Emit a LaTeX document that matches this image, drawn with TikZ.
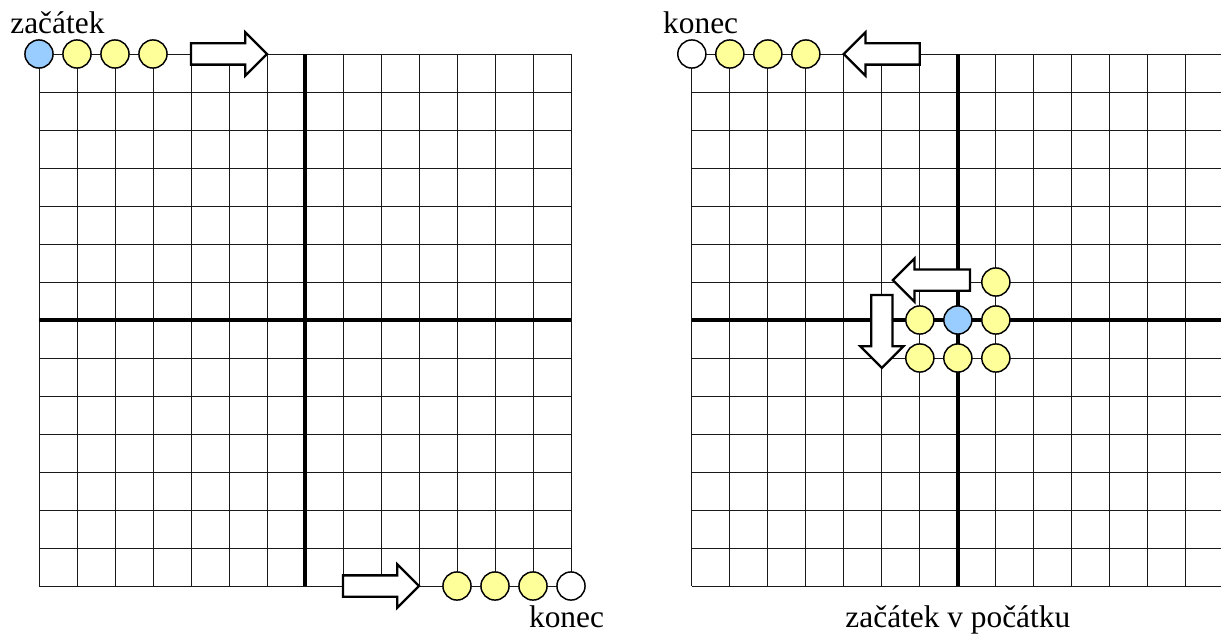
\documentclass[tikz,border=0pt]{standalone}
\usepackage{fontspec}
\setmainfont{Liberation Serif}
\definecolor{startblue}{RGB}{153, 204, 255}
\definecolor{beadyellow}{RGB}{255, 255, 153}
\usetikzlibrary{shapes.arrows}
\tikzset{
	gridline/.style={draw=black!90, line width=0.65pt},
	axisline/.style={draw=black, line width=2.8pt},
	bead/.style={circle, draw=black, line width=1.1pt, fill=beadyellow, minimum size=0.74cm, inner sep=0pt, outer sep=0pt},
	startbead/.style={bead, fill=startblue},
	endbead/.style={bead, fill=white},
	blockarrow/.style={single arrow, draw=black, fill=white, line width=1.7pt, inner xsep=0pt, inner ysep=0.25cm, outer sep=0pt, single arrow head extend=0.29cm, minimum height=2cm, anchor=tail},
	downarrow/.style={blockarrow, shape border rotate=270, inner xsep=0.25cm, inner ysep=0pt},
	lbl/.style={font=\fontsize{23.5}{28}\selectfont, inner sep=0pt, anchor=base west},
}

\begin{document}
\begin{tikzpicture}
	\useasboundingbox (-8.026,-8.289) rectangle (24.105,8.421);
	% left: start in the corner
	\draw[gridline] (-7,-7) grid (7,7);
	\draw[axisline] (-7,0) -- (7,0) (0,-7) -- (0,7);
	\node[startbead] (s1) at (-7,7) {};
	\foreach \i in {1,2,3}
		\node[bead] (a\i) at (-7+\i,7) {};
	\node[blockarrow] (go1) at (-3,7) {};
	\node[blockarrow] (go2) at (1,-7) {};
	\foreach \i in {4,5,6}
		\node[bead] (b\i) at (\i,-7) {};
	\node[endbead] (e1) at (7,-7) {};
	\node[lbl] (start1) at (-7.76,7.55) {začátek};
	\node[lbl] (end1) at (5.89,-8.08) {konec};
	% right: start at the origin
	\begin{scope}[xshift=17.18cm]
		\draw[gridline] (-7,-7) grid (7,7);
		\draw[axisline] (-7,0) -- (7,0) (0,-7) -- (0,7);
		\node[endbead] (e2) at (-7,7) {};
		\foreach \i in {1,2,3}
			\node[bead] (c\i) at (-7+\i,7) {};
		\node[blockarrow, shape border rotate=180] (back1) at (-1,7) {};
		\node[blockarrow, shape border rotate=180, minimum height=2.03cm] (back2) at (0.32,1.05) {};
		\node[downarrow, minimum height=1.92cm] (down) at (-2,0.66) {};
		\foreach \x/\y [count=\k] in {1/1, 1/0, -1/0, -1/-1, 0/-1, 1/-1}
			\node[bead] (d\k) at (\x,\y) {};
		\node[startbead] (s2) at (0,0) {};
		\node[lbl] (end2) at (-7.76,7.55) {konec};
		\node[lbl, anchor=base] (start2) at (0,-8.08) {začátek v počátku};
	\end{scope}
\end{tikzpicture}
\end{document}
